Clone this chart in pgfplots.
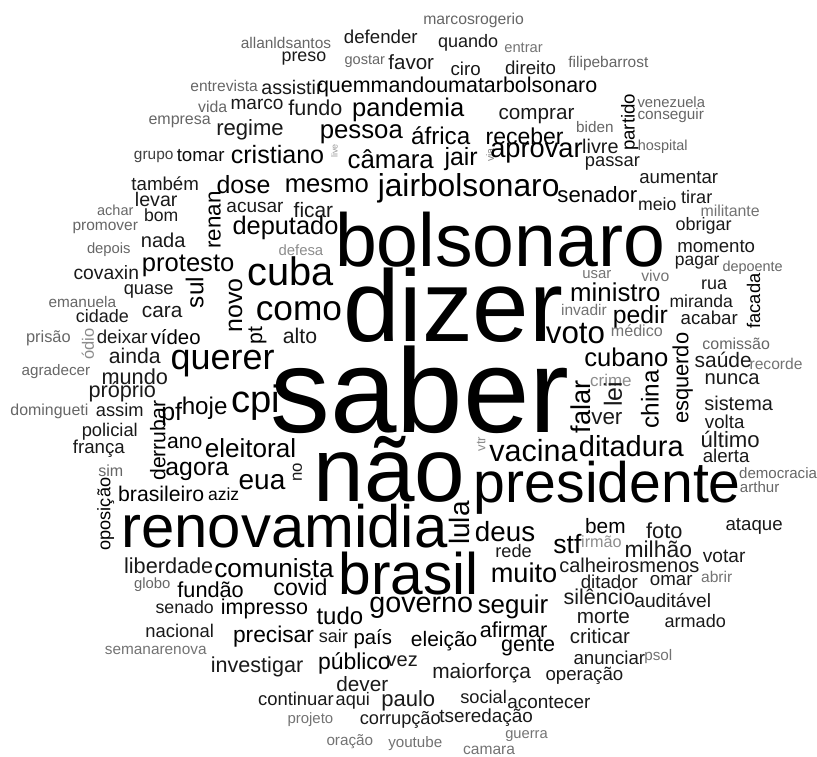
\documentclass[border=0pt]{standalone}
\usepackage{fontspec}
\setmainfont{Liberation Sans}
\usepackage{pgfplots}
\pgfplotsset{compat=1.18}
\usepackage{pgfplotstable}

% word sized so that it spans the given width (px = pt here)
\newsavebox\wordbox
\newlength\wordlen
\newcommand\fitword[2]{%
  \sbox\wordbox{\fontsize{10}{12}\selectfont #1}%
  \setlength\wordlen{\wd\wordbox}%
  \pgfmathsetmacro\wordsize{10.4*#2/\wordlen}%
  \fontsize{\wordsize}{\wordsize}\selectfont #1}

% x y = centre (px, y down), w = extent along the text, r = rotation, c = black percent
\pgfplotstableread{
x y w r c word
474.5 20 97 0 60 marcosrogerio
381.5 37 71 0 90 defender
286.5 43 87 0 60 allanldsantos
469 43 58 0 90 quando
524.5 48 37 0 55 entrar
304.5 59 43 0 90 preso
365.5 61 39 0 60 gostar
412 62 44 0 90 favor
466.5 69 29 0 90 ciro
531.5 68 49 0 90 direito
609.5 64 77 0 60 filipebarrost
224.5 86 65 0 60 entrevista
292.5 88 59 0 90 assistir
458 87 270 0 100 quemmandoumatarbolsonaro
213 107 28 0 60 vida
257.5 105 51 0 90 marco
316 108 52 0 90 fundo
409 110 108 0 100 pandemia
537.5 116 73 0 90 comprar
672.5 102 65 0 60 venezuela
631 122.5 55 90 100 partido
672 116 64 0 60 conseguir
180 122 60 0 60 empresa
250.5 130 65 0 90 regime
362 134 80 0 100 pessoa
441.5 136 57 0 100 áfrica
525.5 137 75 0 100 receber
596 127 36 0 60 biden
154 157 38 0 75 grupo
201 156 46 0 95 tomar
278 155 90 0 100 cristiano
335 151.5 13 90 40 live
391.5 160 83 0 100 câmara
462 159 32 0 100 jair
491 155.5 13 90 50 via
537.5 153 89 0 100 aprovar
601.5 147 35 0 90 livre
664 147 48 0 60 hospital
613.5 164 53 0 90 passar
165.5 184 65 0 90 também
244 185 52 0 100 dose
327.5 186 81 0 100 mesmo
469.5 189 175 0 100 jairbolsonaro
598.5 195 77 0 100 senador
680 178 76 0 90 aumentar
156.5 200 41 0 90 levar
215 220.5 55 90 100 renan
255.5 208 55 0 90 acusar
314 210 38 0 90 ficar
658.5 205 37 0 90 meio
698 197 30 0 90 tirar
731.5 211 57 0 55 militante
115.5 211 35 0 60 achar
161.5 216 33 0 90 bom
286 228 102 0 100 deputado
501 240 318 0 100 bolsonaro
705 226 54 0 90 obrigar
105.5 228 63 0 60 promover
717.5 247 75 0 90 momento
109 250 42 0 60 depois
163.5 241 43 0 90 nada
301.5 251 43 0 45 defesa
291.5 272 83 0 100 cuba
299.5 312 83 0 100 como
300.5 337 33 0 90 alto
454 306 212 0 100 dizer
421 390 288 0 100 saber
698.5 263 43 0 90 pagar
598 275 28 0 55 usar
656.5 276 27 0 55 vivo
754 268 58 0 60 depoente
715.5 285 25 0 90 rua
755 301.5 53 90 100 facada
616.5 293 87 0 100 ministro
702.5 302 61 0 90 miranda
585 311 44 0 55 invadir
641.5 318 53 0 100 pedir
576.5 334 57 0 100 voto
710.5 318 55 0 90 acabar
638 331 50 0 55 médico
737.5 344 65 0 60 comissão
684 379 88 90 100 esquerdo
627.5 358 81 0 100 cubano
724.5 361 55 0 90 saúde
777.5 365 51 0 55 recorde
612 381 40 0 45 crime
733.5 380 53 0 90 nunca
582 407.5 51 90 100 falar
614 395 24 90 90 lei
608 419 30 0 90 ver
651 400 56 90 100 china
740 404 66 0 90 sistema
726 423 38 0 90 volta
731.5 440 57 0 90 último
727.5 457 45 0 90 alerta
632.5 447 101 0 100 ditadura
779.5 474 75 0 60 democracia
761 488 38 0 60 arthur
534.5 451 85 0 100 vacina
482 445 14 90 45 vtr
608.5 489 257 0 100 presidente
106.5 273 63 0 90 covaxin
188.5 266 89 0 100 protesto
82.5 303 65 0 60 emanuela
149 292 48 0 90 quase
195 293 30 90 100 sul
236 306 52 90 100 novo
102.5 317 51 0 90 cidade
162.5 313 39 0 90 cara
258 336.5 17 90 100 pt
48.5 339 43 0 60 prisão
88 345 30 90 45 ódio
122.5 337 49 0 90 deixar
176 338 48 0 100 vídeo
135 357 50 0 90 ainda
223 364 100 0 100 querer
56 372 66 0 60 agradecer
135 377 64 0 90 mundo
122.5 392 65 0 90 próprio
256.5 403 47 0 100 cpi
49.5 412 75 0 60 domingueti
120 411 46 0 90 assim
158 441.5 77 90 100 derrubar
172 415 20 0 100 pf
205 409 44 0 100 hoje
110 433 54 0 90 policial
251 449 88 0 100 eleitoral
185 444 34 0 100 ano
99 450 50 0 90 frança
111 472 24 0 60 sim
197.5 472 61 0 100 agora
262.5 483 45 0 100 eua
298 473 18 90 90 no
106 515 70 90 100 oposição
161.5 495 83 0 100 brasileiro
224 495 30 0 100 aziz
390 470 146 0 100 não
285 527 314 0 100 renovamidia
460 524 42 90 100 lula
506 533 58 0 100 deus
514.5 552 35 0 90 rede
606.5 527 39 0 100 bem
665.5 532 35 0 90 foto
755.5 527 55 0 90 ataque
568.5 545 27 0 100 stf
602.5 543 39 0 45 irmão
659.5 550 65 0 90 milhão
725.5 557 41 0 90 votar
525 574 64 0 100 muito
409.5 575 135 0 100 brasil
274.5 569 115 0 100 comunista
169 567 86 0 90 liberdade
630.5 566 135 0 90 calheirosmenos
152.5 586 35 0 60 globo
211 591 64 0 100 fundão
301 588 52 0 100 covid
610.5 583 55 0 90 ditador
672.5 582 41 0 90 omar
718 578 30 0 55 abrir
185 608 56 0 90 senado
265 610 84 0 100 impresso
340.5 617 45 0 100 tudo
422 609 100 0 100 governo
514 608 68 0 100 seguir
600.5 598 69 0 90 silêncio
674 602 74 0 90 auditável
180 632 66 0 90 nacional
274 638 78 0 100 precisar
334 637 28 0 90 sair
373.5 640 37 0 100 país
445 642 64 0 100 eleição
514.5 631 65 0 100 afirmar
529 648 52 0 100 gente
604.5 618 51 0 90 morte
696.5 622 59 0 90 armado
601 637 58 0 90 criticar
156 652 98 0 55 semanarenova
355 665 70 0 100 público
403 662 30 0 90 vez
257.5 668 89 0 90 investigar
482.5 674 95 0 90 maiorforça
610.5 659 69 0 90 anunciar
659.5 658 27 0 55 psol
363 685 50 0 90 dever
585.5 677 75 0 90 operação
296.5 700 73 0 90 continuar
353.5 702 33 0 90 aqui
409 702 52 0 90 paulo
484.5 698 45 0 90 social
550 704 80 0 90 acontecer
311 721 44 0 55 projeto
401 721 78 0 90 corrupção
487 719 90 0 90 tseredação
527.5 737 41 0 55 guerra
350.5 743 45 0 55 oração
416 745 52 0 55 youtube
490 752 50 0 55 camara
}\words

\begin{document}
\begin{tikzpicture}
\begin{axis}[
    x=1pt, y=1pt, y dir=reverse,
    xmin=0, xmax=817, ymin=0, ymax=758,
    axis line style={draw=none},
    xtick=\empty, ytick=\empty,
    clip=false,
]
\addplot[
    only marks, mark=none,
    point meta=explicit symbolic,
    visualization depends on={\thisrow{w} \as \wordw},
    visualization depends on={\thisrow{r} \as \wordr},
    visualization depends on={\thisrow{c} \as \wordc},
    nodes near coords={\fitword{\pgfplotspointmeta}{\wordw}},
    nodes near coords style={anchor=center, inner sep=0pt, rotate=\wordr, text=black!\wordc},
    ] table[x=x, y=y, meta=word] {\words};
\end{axis}
\end{tikzpicture}
\end{document}
